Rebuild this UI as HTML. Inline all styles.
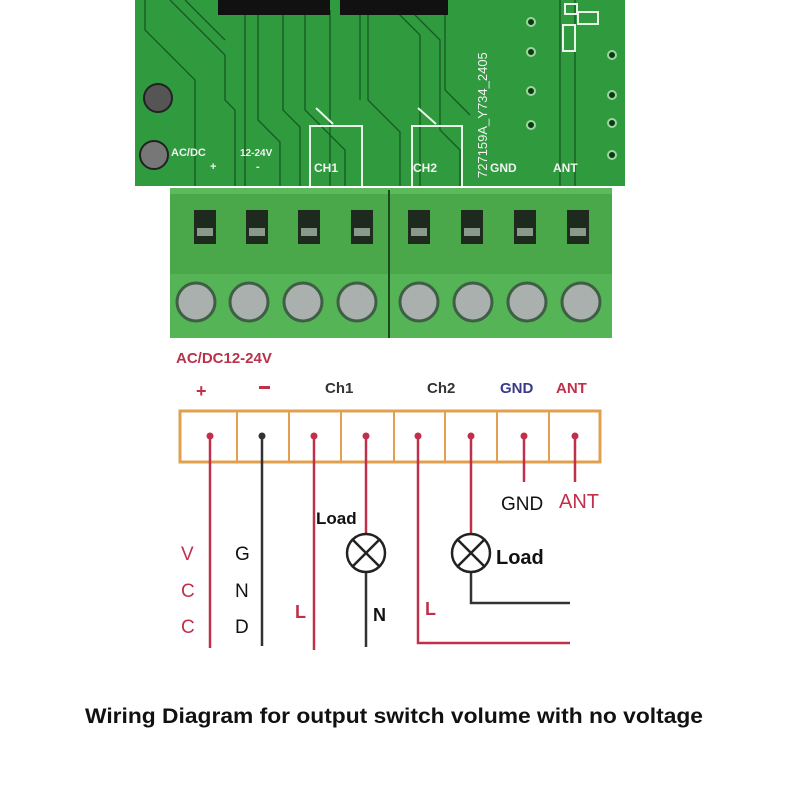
<!DOCTYPE html>
<html><head><meta charset="utf-8"><style>body{margin:0;background:#fff}svg{display:block}</style></head><body>
<svg width="800" height="800" viewBox="0 0 800 800" xmlns="http://www.w3.org/2000/svg" font-family="Liberation Sans, sans-serif">
<rect width="800" height="800" fill="#fff"/>
<rect x="135" y="0" width="490" height="186" fill="#2f9a3e"/>
<g stroke="#145a22" stroke-width="1.3" fill="none">
<path d="M145 0 V30 L195 80 V186"/><path d="M170 0 L225 55 V100 L235 110 V186"/>
<path d="M185 0 L225 40 M230 0 L245 15 V186"/>
<path d="M258 10 V120 L280 142 V186"/><path d="M283 10 V110 L300 127 V186"/>
<path d="M305 10 V110 L345 150 V186"/><path d="M330 10 V186"/><path d="M360 10 V100"/>
<path d="M368 10 V100 L400 132 V186"/><path d="M395 10 L420 35 V186"/>
<path d="M410 10 L440 40 V130 L460 150 V186"/><path d="M445 10 V90 L470 115"/>
<path d="M560 0 V186 M575 0 V186"/>
</g>
<rect x="218" y="0" width="112" height="15" fill="#111"/>
<rect x="340" y="0" width="108" height="15" fill="#111"/>
<g fill="none" stroke="#e8f5e8" stroke-width="2">
<path d="M310 186 V126 H362 V186"/><path d="M316 108 L333 124"/>
<path d="M412 186 V126 H462 V186"/><path d="M418 108 L436 124"/>
<rect x="563" y="25" width="12" height="26"/><rect x="565" y="4" width="12" height="10"/><rect x="578" y="12" width="20" height="12"/>
</g>
<g fill="#0a3a10" stroke="#9fd6a0" stroke-width="2">
<circle cx="531" cy="22" r="4"/><circle cx="531" cy="52" r="4"/><circle cx="531" cy="91" r="4"/><circle cx="531" cy="125" r="4"/>
<circle cx="612" cy="55" r="4"/><circle cx="612" cy="95" r="4"/><circle cx="612" cy="123" r="4"/><circle cx="612" cy="155" r="4"/>
</g>
<circle cx="158" cy="98" r="14" fill="#555" stroke="#222" stroke-width="2"/>
<circle cx="154" cy="155" r="14" fill="#777" stroke="#222" stroke-width="2"/>
<g fill="#f2f2f2" font-weight="bold" font-size="11">
<text x="171" y="156">AC/DC</text><text x="210" y="170">+</text>
<text x="240" y="156" font-size="10">12-24V</text><text x="256" y="170">-</text>
<text x="314" y="172" font-size="12">CH1</text><text x="413" y="172" font-size="12">CH2</text>
<text x="490" y="172" font-size="12">GND</text><text x="553" y="172" font-size="12">ANT</text>
<text transform="translate(487,178) rotate(-90)" font-weight="normal" font-size="13">727159A_Y734_2405</text>
</g>
<rect x="170" y="188" width="442" height="88" fill="#4aa84a"/>
<rect x="170" y="274" width="442" height="64" fill="#55b455"/>
<rect x="170" y="188" width="442" height="6" fill="#5cba5c"/>
<line x1="389" y1="190" x2="389" y2="338" stroke="#1c4a1c" stroke-width="2"/>
<g fill="#1e2a1e">
<rect x="194" y="210" width="22" height="34"/><rect x="246" y="210" width="22" height="34"/><rect x="298" y="210" width="22" height="34"/><rect x="351" y="210" width="22" height="34"/>
<rect x="408" y="210" width="22" height="34"/><rect x="461" y="210" width="22" height="34"/><rect x="514" y="210" width="22" height="34"/><rect x="567" y="210" width="22" height="34"/>
</g>
<g fill="#8a9a8a"><rect x="197" y="228" width="16" height="8"/><rect x="249" y="228" width="16" height="8"/><rect x="301" y="228" width="16" height="8"/><rect x="354" y="228" width="16" height="8"/><rect x="411" y="228" width="16" height="8"/><rect x="464" y="228" width="16" height="8"/><rect x="517" y="228" width="16" height="8"/><rect x="570" y="228" width="16" height="8"/></g>
<g fill="#a9b0ad" stroke="#3f5f45" stroke-width="3">
<circle cx="196" cy="302" r="19"/><circle cx="249" cy="302" r="19"/><circle cx="303" cy="302" r="19"/><circle cx="357" cy="302" r="19"/>
<circle cx="419" cy="302" r="19"/><circle cx="473" cy="302" r="19"/><circle cx="527" cy="302" r="19"/><circle cx="581" cy="302" r="19"/>
</g>
<text x="176" y="363" fill="#b8324a" font-weight="bold" font-size="15">AC/DC12-24V</text>
<text x="196" y="397" fill="#c0304a" font-weight="bold" font-size="18">+</text>
<rect x="259" y="386" width="11" height="3" fill="#c0304a"/>
<g font-weight="bold" font-size="15">
<text x="325" y="393" fill="#333">Ch1</text><text x="427" y="393" fill="#333">Ch2</text>
<text x="500" y="393" fill="#3a3a8a">GND</text><text x="556" y="393" fill="#c0304a">ANT</text>
</g>
<rect x="180" y="411" width="420" height="51" fill="none" stroke="#e0a050" stroke-width="3"/>
<g stroke="#e0a050" stroke-width="2"><line x1="237" y1="411" x2="237" y2="462"/><line x1="289" y1="411" x2="289" y2="462"/><line x1="341" y1="411" x2="341" y2="462"/><line x1="394" y1="411" x2="394" y2="462"/><line x1="445" y1="411" x2="445" y2="462"/><line x1="497" y1="411" x2="497" y2="462"/><line x1="549" y1="411" x2="549" y2="462"/></g>
<g stroke-width="2.5" fill="none">
<path d="M210 435 V648" stroke="#c0304a"/>
<path d="M262 435 V646" stroke="#333"/>
<path d="M314 435 V650" stroke="#c0304a"/>
<path d="M366 435 V534" stroke="#c0304a"/><path d="M366 572 V647" stroke="#333"/>
<path d="M418 435 V643 H570" stroke="#c0304a"/>
<path d="M471 435 V534" stroke="#c0304a"/><path d="M471 572 V603 H570" stroke="#333"/>
<path d="M524 435 V482" stroke="#c0304a"/><path d="M575 435 V482" stroke="#c0304a"/>
</g>
<g fill="#c0304a"><circle cx="210" cy="436" r="3.5"/><circle cx="314" cy="436" r="3.5"/><circle cx="366" cy="436" r="3.5"/><circle cx="418" cy="436" r="3.5"/><circle cx="471" cy="436" r="3.5"/><circle cx="524" cy="436" r="3.5"/><circle cx="575" cy="436" r="3.5"/></g>
<circle cx="262" cy="436" r="3.5" fill="#333"/>
<g fill="#fff" stroke="#222" stroke-width="2.5">
<circle cx="366" cy="553" r="19"/><circle cx="471" cy="553" r="19"/>
</g>
<g stroke="#222" stroke-width="2.5"><path d="M353 540 L379 566 M379 540 L353 566"/><path d="M458 540 L484 566 M484 540 L458 566"/></g>
<text x="501" y="510" font-size="19" fill="#111">GND</text>
<text x="559" y="508" font-size="20" fill="#c0304a">ANT</text>
<text x="316" y="524" font-size="17" font-weight="bold" fill="#111">Load</text>
<text x="496" y="564" font-size="20" font-weight="bold" fill="#111">Load</text>
<g font-size="19" fill="#c0304a"><text x="181" y="560">V</text><text x="181" y="597">C</text><text x="181" y="633">C</text></g>
<g font-size="19" fill="#111"><text x="235" y="560">G</text><text x="235" y="597">N</text><text x="235" y="633">D</text></g>
<text x="295" y="618" font-size="18" font-weight="bold" fill="#c0304a">L</text>
<text x="373" y="621" font-size="18" font-weight="bold" fill="#111">N</text>
<text x="425" y="615" font-size="18" font-weight="bold" fill="#c0304a">L</text>
<text x="85" y="723" font-size="21" font-weight="bold" fill="#111" textLength="618" lengthAdjust="spacingAndGlyphs">Wiring Diagram for output switch volume with no voltage</text>
</svg>
</body></html>
